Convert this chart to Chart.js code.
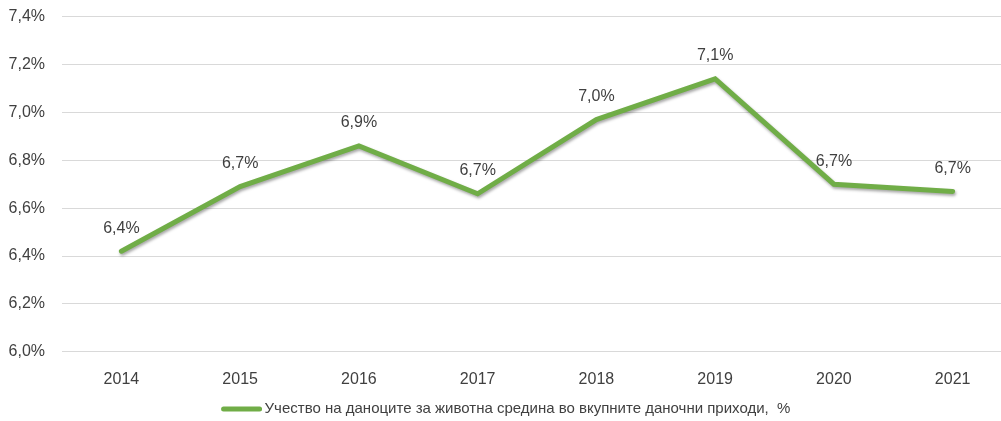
<!DOCTYPE html>
<html>
<head>
<meta charset="utf-8">
<script src="https://cdn.jsdelivr.net/npm/chart.js@4/dist/chart.umd.min.js"></script>
<style>
  html, body { margin: 0; padding: 0; background: #fff; overflow: hidden; }
  #wrap { width: 1001px; height: 421px; overflow: hidden; }
  #chart { display: block; margin-top: -10px; }
</style>
</head>
<body>
<div id="wrap"><canvas id="chart" width="1012" height="431"></canvas></div>
<script>
// data
const years = ["2014", "2015", "2016", "2017", "2018", "2019", "2020", "2021"];
const shares = [6.42, 6.69, 6.86, 6.66, 6.97, 7.14, 6.70, 6.67];
const seriesName = "Учество на даноците за животна средина во вкупните даночни приходи,  %";
const yMin = 6.0;
const yMax = 7.4;
const yStep = 0.2;

const green = "#70ad47";
const textColor = "#404040";
const fontFamily = "'Liberation Sans', Arial, sans-serif";

function pct(v) {
  return v.toFixed(1).replace(".", ",") + "%";
}

// line shadow
const shadowPlugin = {
  id: "lineShadow",
  beforeDatasetDraw(chart) {
    const ctx = chart.ctx;
    ctx.save();
    ctx.shadowColor = "rgba(0,0,0,0.35)";
    ctx.shadowBlur = 3;
    ctx.shadowOffsetX = 1;
    ctx.shadowOffsetY = 2;
  },
  afterDatasetDraw(chart) {
    chart.ctx.restore();
  }
};

// value labels above the points + legend at the bottom
const valueLabels = {
  id: "valueLabels",
  afterDatasetsDraw(chart) {
    const ctx = chart.ctx;
    const meta = chart.getDatasetMeta(0);
    ctx.save();
    ctx.font = "16px " + fontFamily;
    ctx.fillStyle = textColor;
    ctx.textAlign = "center";
    ctx.textBaseline = "middle";
    meta.data.forEach((pt, i) => {
      ctx.fillText(pct(shares[i]), pt.x, pt.y - 23);
    });

    // legend
    const ds = chart.data.datasets[0];
    ctx.font = "15px " + fontFamily;
    const tw = ctx.measureText(ds.label).width;
    const sw = 40, gap = 3;
    const x0 = chart.width / 2 - (sw + gap + tw) / 2;
    const y = chart.height - 12;
    ctx.strokeStyle = ds.borderColor;
    ctx.lineWidth = 5;
    ctx.lineCap = "round";
    ctx.beginPath();
    ctx.moveTo(x0 + 2, y);
    ctx.lineTo(x0 + sw - 2, y);
    ctx.stroke();
    ctx.textAlign = "left";
    ctx.fillText(ds.label, x0 + sw + gap, y);
    ctx.restore();
  }
};

new Chart(document.getElementById("chart"), {
  type: "line",
  data: {
    labels: years,
    datasets: [{
      label: seriesName,
      data: shares,
      borderColor: green,
      backgroundColor: green,
      borderWidth: 5,
      borderCapStyle: "round",
      borderJoinStyle: "miter",
      pointRadius: 0,
      tension: 0
    }]
  },
  options: {
    responsive: false,
    animation: false,
    devicePixelRatio: 1,
    layout: { padding: { top: -2, bottom: 14 } },
    plugins: {
      tooltip: { enabled: false },
      legend: { display: false }
    },
    scales: {
      x: {
        offset: true,
        grid: { display: false, drawTicks: false },
        border: { display: false },
        ticks: {
          color: textColor,
          font: { family: fontFamily, size: 16 },
          padding: 18,
          maxRotation: 0
        }
      },
      y: {
        min: yMin,
        max: yMax,
        afterFit(scale) { scale.width = 62; },
        grid: { color: "#d9d9d9", lineWidth: 1, drawTicks: false },
        border: { display: false },
        ticks: {
          stepSize: yStep,
          color: textColor,
          font: { family: fontFamily, size: 16 },
          padding: 17,
          callback: (v) => pct(v)
        }
      }
    }
  },
  plugins: [shadowPlugin, valueLabels]
});
</script>
</body>
</html>
